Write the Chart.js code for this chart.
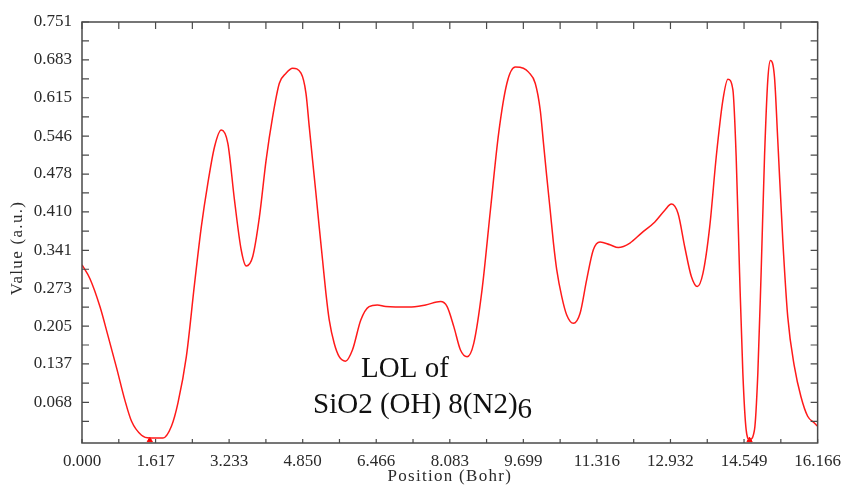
<!DOCTYPE html>
<html>
<head>
<meta charset="utf-8">
<script src="https://cdn.jsdelivr.net/npm/chart.js@4.4.1/dist/chart.umd.min.js"></script>
<style>
    html, body { margin: 0; padding: 0; background: #fff; }
    #lolChart { display: block; }
</style>
</head>
<body>
<canvas id="lolChart" width="849" height="487"></canvas>
<script>
// Posiciones (Bohr) y valores LOL
const positions = [
    0.000, 0.175, 0.394, 0.576, 0.760, 0.942, 1.089, 1.308, 1.490, 1.781,
    1.965, 2.109, 2.293, 2.475, 2.622, 2.767, 2.913, 3.060, 3.205, 3.351,
    3.498, 3.608, 3.752, 3.899, 4.046, 4.190, 4.337, 4.484, 4.628, 4.813,
    4.922, 4.994, 5.067, 5.141, 5.213, 5.286, 5.360, 5.433, 5.542, 5.652,
    5.790, 5.943, 6.127, 6.309, 6.490, 6.675, 7.185, 7.551, 7.879, 8.024,
    8.171, 8.317, 8.463, 8.609, 8.791, 8.975, 9.156, 9.338, 9.522, 9.700,
    9.813, 9.960, 10.070, 10.142, 10.214, 10.289, 10.361, 10.433, 10.543, 10.652,
    10.799, 10.946, 11.090, 11.237, 11.384, 11.603, 11.785, 12.041, 12.295, 12.589,
    12.808, 12.952, 13.099, 13.246, 13.391, 13.522, 13.647, 13.794, 13.938, 14.085,
    14.195, 14.304, 14.376, 14.451, 14.523, 14.595, 14.670, 14.779, 14.852, 14.924,
    14.999, 15.071, 15.130, 15.218, 15.290, 15.400, 15.509, 15.656, 15.800, 15.947,
    16.094, 16.166
];
const lolValues = [
    0.315, 0.290, 0.240, 0.186, 0.130, 0.072, 0.034, 0.009, 0.004, 0.004,
    0.025, 0.067, 0.150, 0.282, 0.383, 0.462, 0.527, 0.557, 0.533, 0.431,
    0.342, 0.313, 0.330, 0.401, 0.503, 0.581, 0.641, 0.659, 0.668, 0.659,
    0.623, 0.563, 0.503, 0.443, 0.383, 0.324, 0.264, 0.216, 0.174, 0.150,
    0.142, 0.162, 0.216, 0.240, 0.243, 0.240, 0.239, 0.243, 0.249, 0.240,
    0.204, 0.162, 0.150, 0.174, 0.270, 0.413, 0.551, 0.641, 0.670, 0.668,
    0.661, 0.641, 0.593, 0.533, 0.473, 0.413, 0.354, 0.306, 0.258, 0.225,
    0.210, 0.228, 0.288, 0.342, 0.356, 0.351, 0.346, 0.354, 0.372, 0.392,
    0.413, 0.424, 0.407, 0.347, 0.294, 0.276, 0.300, 0.383, 0.509, 0.611,
    0.648, 0.629, 0.509, 0.300, 0.120, 0.019, 0.001, 0.019, 0.120, 0.300,
    0.509, 0.647, 0.682, 0.652, 0.539, 0.360, 0.222, 0.132, 0.078, 0.043,
    0.031, 0.025
];

// Mínimos marcados con triángulo rojo sobre el eje
const minimaX = [1.490, 14.670];
const minimaY = [0.0, 0.0];

// Marcas de los ejes
const xTicks = [0.000, 1.617, 3.233, 4.850, 6.466, 8.083, 9.699, 11.316, 12.932, 14.549, 16.166];
const yTicks = [0.068, 0.137, 0.205, 0.273, 0.341, 0.410, 0.478, 0.546, 0.615, 0.683, 0.751];

const axisColor = '#4a4a4a';
const textColor = '#2a2a2a';
const serif = '"Liberation Serif", "Times New Roman", serif';

// Marco de la gráfica, marcas hacia dentro en los 4 lados, títulos de ejes y anotación
const framePlugin = {
    id: 'frame',
    afterDatasetsDraw(chart) {
        const { ctx, chartArea: a, scales } = chart;
        const sx = scales.x, sy = scales.y;
        ctx.save();
        ctx.strokeStyle = axisColor;
        ctx.lineWidth = 1.5;
        ctx.strokeRect(a.left, a.top, a.right - a.left, a.bottom - a.top);

        const xAll = [];
        xTicks.forEach((v, i) => {
            xAll.push(v);
            if (i < xTicks.length - 1) xAll.push((v + xTicks[i + 1]) / 2);
        });
        const yAll = [yTicks[0] / 2];
        yTicks.forEach((v, i) => {
            yAll.push(v);
            if (i < yTicks.length - 1) yAll.push((v + yTicks[i + 1]) / 2);
        });

        ctx.lineWidth = 1.2;
        ctx.beginPath();
        xAll.forEach(v => {
            const px = sx.getPixelForValue(v);
            ctx.moveTo(px, a.top); ctx.lineTo(px, a.top + 7);
            ctx.moveTo(px, a.bottom); ctx.lineTo(px, a.bottom - 4);
        });
        yAll.forEach(v => {
            const py = sy.getPixelForValue(v);
            ctx.moveTo(a.left, py); ctx.lineTo(a.left + 7, py);
            ctx.moveTo(a.right, py); ctx.lineTo(a.right - 7, py);
        });
        ctx.stroke();

        // Títulos de los ejes (con algo de espaciado entre letras como el original)
        ctx.fillStyle = textColor;
        ctx.font = '17px ' + serif;
        ctx.letterSpacing = '1.3px';
        ctx.textAlign = 'center';
        ctx.textBaseline = 'middle';
        ctx.fillText('Position (Bohr)', (a.left + a.right) / 2, 477);
        ctx.translate(18, 248);
        ctx.rotate(-Math.PI / 2);
        ctx.fillText('Value (a.u.)', 0, 0);
        ctx.restore();

        // Anotación
        ctx.save();
        ctx.fillStyle = '#111';
        ctx.font = '29px ' + serif;
        ctx.textBaseline = 'alphabetic';
        ctx.textAlign = 'center';
        ctx.fillText('LOL of', 405, 377);
        ctx.textAlign = 'left';
        const first = 'SiO2 (OH) 8(N2)';
        ctx.fillText(first, 313, 413);
        ctx.fillText('6', 313 + ctx.measureText(first).width, 418);
        ctx.restore();
    }
};

new Chart(document.getElementById('lolChart'), {
    type: 'line',
    data: {
        datasets: [{
            label: 'LOL',
            data: positions.map((x, i) => ({ x: x, y: lolValues[i] })),
            borderColor: '#ff1a1a',
            borderWidth: 1.5,
            pointRadius: 0,
            cubicInterpolationMode: 'monotone',
            fill: false
        }, {
            label: 'min',
            data: minimaX.map((x, i) => ({ x: x, y: minimaY[i] })),
            showLine: false,
            pointStyle: 'triangle',
            pointRadius: 3,
            backgroundColor: '#ff0000',
            borderColor: '#ff0000',
            borderWidth: 1
        }]
    },
    options: {
        responsive: false,
        animation: false,
        layout: { padding: { top: 22, right: 29, left: 0, bottom: 0 } },
        plugins: {
            legend: { display: false },
            tooltip: { enabled: false }
        },
        scales: {
            x: {
                type: 'linear',
                min: 0,
                max: 16.166,
                afterBuildTicks: (axis) => { axis.ticks = xTicks.map(v => ({ value: v })); },
                afterFit: (axis) => { axis.height = 44; },
                grid: { display: false, drawTicks: false },
                border: { display: false },
                ticks: {
                    padding: 8,
                    maxRotation: 0,
                    color: textColor,
                    font: { family: serif, size: 17 },
                    callback: (v) => Number(v).toFixed(3)
                }
            },
            y: {
                min: -0.005,
                max: 0.751,
                afterBuildTicks: (axis) => { axis.ticks = yTicks.map(v => ({ value: v })); },
                afterFit: (axis) => { axis.width = 82; },
                grid: { display: false, drawTicks: false },
                border: { display: false },
                ticks: {
                    padding: 10,
                    color: textColor,
                    font: { family: serif, size: 17 },
                    callback: (v) => Number(v).toFixed(3)
                }
            }
        }
    },
    plugins: [framePlugin]
});
</script>
</body>
</html>
